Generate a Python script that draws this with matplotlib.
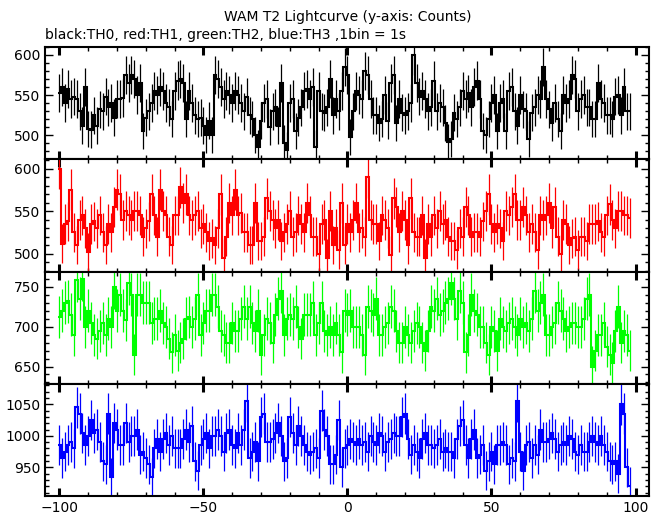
import numpy as np
import matplotlib
matplotlib.use("Agg")
import matplotlib.pyplot as plt
from matplotlib.ticker import MultipleLocator

# bin centres (s), 1 s bins
time_s = np.arange(-100, 99)

th0 = [553, 560, 540, 558, 545, 548, 545, 530, 512, 560,
       508, 507, 525, 512, 532, 530, 548, 535, 540, 522,
       545, 545, 546, 575, 565, 575, 570, 550, 565, 505,
       522, 530, 540, 555, 550, 560, 555, 540, 535, 520,
       555, 568, 570, 565, 520, 555, 540, 525, 520, 522,
       512, 500, 518, 500, 575, 570, 560, 545, 555, 550,
       540, 555, 550, 540, 530, 548, 525, 520, 500, 485,
       518, 540, 545, 510, 530, 535, 512, 565, 490, 482,
       540, 545, 505, 522, 535, 555, 558, 545, 560, 485,
       555, 530, 528, 535, 570, 525, 545, 530, 555, 585,
       575, 498, 530, 555, 550, 545, 580, 575, 545, 525,
       525, 515, 520, 550, 518, 565, 575, 515, 545, 528,
       525, 530, 540, 600, 565, 548, 555, 545, 530, 535,
       568, 530, 540, 535, 515, 492, 495, 528, 520, 535,
       555, 545, 552, 535, 560, 568, 545, 505, 500, 520,
       540, 550, 505, 540, 545, 505, 555, 560, 530, 512,
       550, 532, 530, 495, 528, 535, 550, 545, 585, 545,
       532, 515, 540, 520, 505, 550, 540, 545, 575, 570,
       530, 545, 550, 535, 535, 520, 520, 565, 545, 540,
       525, 525, 520, 548, 550, 525, 560, 530, 530]

th1 = [600, 512, 535, 538, 575, 525, 510, 540, 545, 530,
       502, 535, 538, 530, 545, 525, 510, 535, 525, 555,
       575, 570, 540, 550, 545, 540, 550, 550, 545, 520,
       530, 538, 570, 545, 520, 575, 550, 545, 520, 510,
       545, 545, 578, 560, 570, 545, 540, 545, 550, 530,
       535, 525, 515, 518, 510, 530, 570, 495, 520, 560,
       545, 575, 545, 548, 525, 525, 510, 510, 560, 515,
       515, 520, 565, 550, 540, 530, 540, 515, 525, 535,
       550, 520, 525, 545, 535, 525, 560, 545, 520, 520,
       500, 535, 540, 495, 550, 510, 530, 505, 560, 510,
       535, 525, 540, 560, 525, 530, 520, 590, 540, 535,
       535, 515, 545, 540, 530, 498, 565, 555, 525, 550,
       540, 510, 565, 525, 520, 520, 545, 495, 535, 520,
       545, 530, 550, 535, 540, 520, 515, 515, 505, 530,
       520, 555, 545, 520, 525, 525, 520, 538, 550, 570,
       535, 525, 535, 530, 515, 550, 545, 555, 570, 540,
       540, 555, 545, 525, 535, 525, 505, 545, 540, 545,
       560, 530, 555, 520, 500, 540, 535, 510, 518, 520,
       505, 520, 520, 515, 535, 535, 535, 538, 525, 520,
       545, 558, 540, 530, 550, 550, 545, 545, 542]

th2 = [712, 720, 730, 732, 715, 690, 758, 735, 760, 700,
       720, 705, 690, 685, 695, 705, 690, 710, 700, 750,
       720, 740, 720, 708, 755, 740, 665, 740, 740, 730,
       730, 730, 705, 710, 710, 720, 705, 700, 685, 668,
       690, 670, 680, 685, 710, 712, 700, 710, 740, 690,
       705, 720, 720, 740, 740, 725, 695, 690, 680, 680,
       705, 695, 695, 710, 725, 710, 725, 705, 695, 720,
       665, 690, 710, 705, 680, 715, 735, 745, 690, 710,
       715, 710, 725, 700, 685, 715, 715, 715, 730, 690,
       705, 730, 695, 690, 700, 690, 705, 690, 668, 720,
       715, 720, 700, 700, 700, 690, 665, 725, 720, 715,
       735, 690, 690, 700, 705, 725, 720, 695, 680, 680,
       700, 690, 680, 695, 705, 700, 680, 670, 695, 725,
       720, 735, 715, 720, 730, 735, 755, 735, 710, 745,
       730, 668, 690, 740, 720, 715, 700, 700, 680, 665,
       700, 695, 670, 710, 700, 695, 705, 710, 700, 690,
       710, 700, 705, 695, 710, 745, 720, 730, 740, 690,
       690, 700, 705, 730, 720, 710, 695, 700, 705, 705,
       700, 700, 710, 735, 740, 650, 670, 690, 690, 705,
       675, 665, 655, 695, 725, 680, 695, 690, 670]

th3 = [985, 965, 975, 985, 990, 980, 1045, 1035, 1005, 985,
       1000, 1025, 1005, 1010, 990, 960, 955, 1035, 935, 1020,
       1010, 985, 985, 1020, 990, 1000, 1000, 1010, 970, 975,
       965, 955, 935, 980, 995, 975, 995, 1005, 985, 1000,
       980, 980, 980, 995, 1010, 990, 1015, 960, 945, 985,
       995, 1005, 980, 1000, 1000, 1010, 1000, 975, 1005, 1010,
       985, 980, 1005, 985, 1010, 1055, 965, 975, 990, 960,
       1030, 1035, 990, 990, 995, 1005, 1020, 1000, 960, 965,
       1030, 1005, 985, 1015, 1000, 985, 975, 970, 975, 980,
       965, 1040, 1010, 1000, 955, 955, 970, 1025, 950, 980,
       985, 995, 990, 985, 995, 985, 990, 975, 1000, 990,
       985, 1005, 1000, 975, 990, 995, 1005, 1000, 1000, 1030,
       1035, 995, 970, 985, 975, 965, 995, 1005, 985, 985,
       980, 985, 995, 975, 980, 975, 975, 965, 995, 1015,
       1025, 985, 965, 995, 1010, 965, 970, 985, 945, 960,
       975, 955, 985, 985, 990, 985, 955, 965, 960, 1055,
       975, 945, 985, 990, 965, 985, 970, 1010, 990, 990,
       995, 1005, 995, 975, 985, 990, 985, 1000, 995, 975,
       970, 985, 975, 975, 990, 1000, 990, 985, 1000, 985,
       975, 960, 955, 960, 940, 1050, 1035, 950, 920]

channels = [th0, th1, th2, th3]
colors = ["black", "#ff0000", "#00ff00", "#0000ff"]
ylims = [(470, 610), (479, 611), (628, 769), (904, 1082)]


def main():
    fig = plt.figure(figsize=(6.62, 5.15), dpi=100)
    fig.subplots_adjust(left=0.068, right=0.980, bottom=0.036, top=0.909, hspace=0)
    axes = fig.subplots(4, 1, sharex=True)

    edges = np.append(time_s - 0.5, time_s[-1] + 0.5)
    for ax, counts, col, yl in zip(axes, channels, colors, ylims):
        counts = np.array(counts, dtype=float)
        ax.stairs(counts, edges, baseline=None, color=col, lw=1.5)
        ax.errorbar(time_s, counts, yerr=np.sqrt(counts), fmt="none",
                    ecolor=col, elinewidth=0.9, capsize=0)
        ax.set_ylim(*yl)
        ax.set_xlim(-105, 104.6)
        ax.xaxis.set_major_locator(MultipleLocator(50))
        ax.xaxis.set_minor_locator(MultipleLocator(10))
        ax.yaxis.set_major_locator(MultipleLocator(50))
        ax.yaxis.set_minor_locator(MultipleLocator(10))
        ax.tick_params(which="both", direction="in", top=True, right=True,
                       labelsize=10)
        ax.tick_params(axis="x", which="major", length=6, width=2.2)
        ax.tick_params(axis="y", which="major", length=6, width=1)
        ax.tick_params(which="minor", length=3, width=1)
        for sp in ax.spines.values():
            sp.set_linewidth(1.5)

    fig.text(0.525, 0.967, "WAM T2 Lightcurve (y-axis: Counts)",
             ha="center", va="center", fontsize=10)
    fig.text(0.068, 0.932, "black:TH0, red:TH1, green:TH2, blue:TH3 ,1bin = 1s",
             ha="left", va="center", fontsize=10)

    fig.savefig("out.png", dpi=100)


if __name__ == '__main__':
    main()
